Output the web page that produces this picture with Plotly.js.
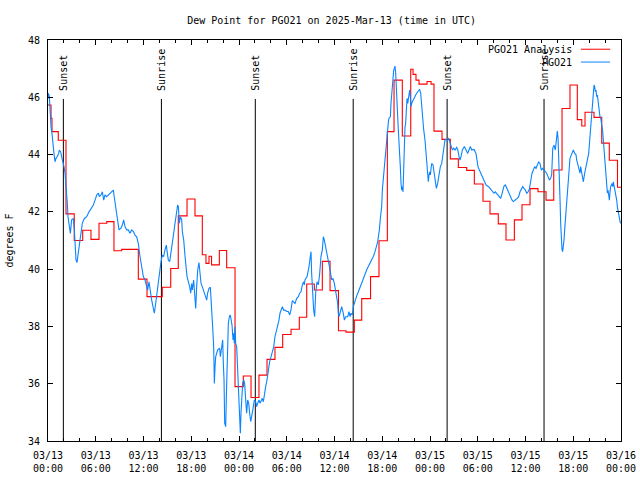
<!DOCTYPE html>
<html>
<head>
<meta charset="utf-8">
<script src="https://cdn.plot.ly/plotly-3.0.1.min.js"></script>
<style>html,body{margin:0;padding:0;background:#fff;}#chart{width:640px;height:480px;}</style>
</head>
<body>
<div id="chart"></div>
<script>
// Hours after 2025-03-13 00:00 UTC
const analysisHours = [0, 0.38, 0.5, 1.29, 2.26, 3.3, 4.36, 5.4, 6.41, 7.38, 8.29, 9.26, 11.35, 12.44, 14.36, 15.42, 16.37, 17.47, 18.47, 19.39, 19.85, 20.23, 20.55, 21.53, 22.45, 23.5, 24.54, 25.51, 26.51, 27.52, 28.52, 29.49, 30.54, 31.58, 32.51, 33.46, 34.47, 35.44, 36.5, 37.45, 38.49, 39.42, 40.53, 41.59, 42.64, 43.48, 44.52, 45.58, 45.87, 46.24, 46.62, 47.63, 48.13, 48.5, 49.51, 50.55, 51.56, 52.61, 53.57, 54.66, 55.54, 56.58, 57.55, 58.6, 59.56, 60.57, 61.57, 62.58, 63.55, 64.59, 65.59, 66.51, 67.07, 67.48, 68.61, 69.58, 70.53, 71.56, 72];
const analysisDew = [45.73, 45.27, 44.8, 44.5, 41.93, 41.0, 41.36, 41.04, 41.6, 41.66, 40.64, 40.69, 39.65, 39.04, 39.37, 40.02, 41.86, 42.45, 41.86, 40.5, 40.2, 40.45, 40.15, 40.65, 40.05, 35.9, 36.27, 35.52, 36.3, 36.85, 37.27, 37.72, 37.9, 38.32, 39.48, 39.27, 40.27, 39.25, 37.85, 37.8, 38.22, 38.97, 39.74, 40.99, 44.8, 46.6, 44.65, 46.98, 46.8, 46.6, 46.46, 46.55, 46.46, 44.82, 44.53, 43.85, 43.55, 43.45, 42.97, 42.37, 41.93, 41.58, 41.02, 41.72, 42.25, 42.81, 42.7, 42.41, 43.46, 45.61, 46.43, 45.22, 45.0, 45.48, 45.3, 44.4, 43.8, 42.86, 42.86];

const obsHours = [0, 0.04, 0.17, 0.25, 0.38, 0.5, 0.67, 0.75, 0.88, 1.0, 1.17, 1.34, 1.42, 1.59, 1.76, 1.93, 2.01, 2.14, 2.26, 2.35, 2.43, 2.51, 2.6, 2.72, 2.81, 2.97, 3.18, 3.31, 3.39, 3.52, 3.64, 3.81, 3.98, 4.15, 4.31, 4.57, 4.86, 5.15, 5.4, 5.7, 5.91, 6.12, 6.33, 6.45, 6.66, 6.83, 7.0, 7.16, 7.37, 7.58, 7.79, 8.0, 8.21, 8.29, 8.42, 8.59, 8.75, 8.92, 9.17, 9.34, 9.51, 9.68, 9.89, 10.09, 10.3, 10.51, 10.72, 10.93, 11.14, 11.35, 11.56, 11.77, 11.98, 12.19, 12.31, 12.52, 12.69, 12.86, 13.03, 13.19, 13.36, 13.53, 13.7, 13.86, 14.03, 14.2, 14.37, 14.53, 14.7, 14.87, 15.0, 15.12, 15.29, 15.46, 15.62, 15.79, 15.96, 16.13, 16.29, 16.38, 16.5, 16.63, 16.8, 16.88, 17.05, 17.22, 17.47, 17.8, 17.93, 18.05, 18.14, 18.3, 18.39, 18.56, 18.68, 18.81, 18.97, 19.1, 19.23, 19.39, 19.64, 19.94, 20.06, 20.23, 20.4, 20.57, 20.69, 20.82, 20.9, 20.99, 21.07, 21.32, 21.57, 21.66, 21.82, 21.95, 22.03, 22.12, 22.2, 22.33, 22.41, 22.53, 22.66, 22.79, 22.91, 23.12, 23.25, 23.33, 23.41, 23.5, 23.58, 23.71, 23.83, 23.92, 24.0, 24.08, 24.17, 24.25, 24.34, 24.46, 24.59, 24.71, 24.84, 24.96, 25.09, 25.22, 25.34, 25.47, 25.59, 25.8, 25.93, 26.1, 26.22, 26.35, 26.51, 26.64, 26.77, 26.93, 27.06, 27.18, 27.35, 27.52, 27.69, 27.85, 28.02, 28.19, 28.36, 28.52, 28.69, 28.86, 29.03, 29.15, 29.28, 29.45, 29.61, 29.78, 29.99, 30.2, 30.37, 30.53, 30.7, 30.87, 31.04, 31.25, 31.46, 31.62, 31.79, 31.96, 32.13, 32.21, 32.29, 32.55, 32.63, 32.8, 32.96, 33.05, 33.13, 33.26, 33.38, 33.51, 33.63, 33.8, 33.97, 34.14, 34.3, 34.47, 34.6, 34.72, 34.89, 35.06, 35.23, 35.44, 35.65, 35.81, 35.98, 36.15, 36.27, 36.4, 36.48, 36.57, 36.69, 36.9, 37.11, 37.24, 37.41, 37.66, 37.82, 37.95, 38.08, 38.24, 38.37, 38.49, 38.66, 38.83, 39.0, 39.16, 39.33, 39.5, 39.67, 39.83, 40.04, 40.25, 40.46, 40.67, 40.88, 41.09, 41.3, 41.43, 41.51, 41.64, 41.76, 41.85, 41.93, 42.01, 42.1, 42.18, 42.26, 42.35, 42.43, 42.52, 42.6, 42.68, 42.77, 42.85, 43.02, 43.1, 43.19, 43.27, 43.35, 43.44, 43.52, 43.6, 43.69, 43.77, 43.86, 43.94, 44.02, 44.11, 44.19, 44.27, 44.36, 44.44, 44.53, 44.61, 44.69, 44.78, 44.86, 44.94, 45.03, 45.11, 45.2, 45.28, 45.36, 45.45, 45.53, 45.61, 45.7, 45.87, 46.03, 46.2, 46.37, 46.54, 46.7, 46.83, 46.96, 47.08, 47.21, 47.37, 47.5, 47.63, 47.71, 47.79, 47.88, 47.96, 48.04, 48.13, 48.21, 48.38, 48.55, 48.71, 48.8, 48.97, 49.13, 49.3, 49.47, 49.59, 49.72, 49.8, 49.89, 50.14, 50.31, 50.47, 50.64, 50.81, 50.98, 51.14, 51.35, 51.48, 51.65, 51.77, 51.9, 52.07, 52.32, 52.57, 52.74, 52.9, 53.07, 53.24, 53.53, 53.78, 53.87, 54.03, 54.2, 54.37, 54.54, 54.7, 54.87, 55.04, 55.21, 55.37, 55.54, 55.71, 55.88, 56.04, 56.21, 56.38, 56.59, 56.71, 56.88, 57.01, 57.13, 57.3, 57.47, 57.64, 57.8, 57.97, 58.14, 58.31, 58.47, 58.64, 58.81, 58.98, 59.14, 59.31, 59.52, 59.65, 59.81, 59.98, 60.15, 60.32, 60.48, 60.57, 60.69, 60.82, 60.99, 61.15, 61.32, 61.49, 61.66, 61.82, 61.99, 62.16, 62.33, 62.49, 62.66, 62.83, 63.0, 63.16, 63.29, 63.42, 63.58, 63.75, 63.84, 63.92, 64.0, 64.09, 64.17, 64.25, 64.34, 64.42, 64.51, 64.59, 64.67, 64.76, 64.84, 64.92, 65.01, 65.09, 65.18, 65.26, 65.34, 65.43, 65.51, 65.59, 65.76, 65.93, 66.01, 66.18, 66.35, 66.43, 66.6, 66.77, 66.85, 66.93, 67.1, 67.27, 67.44, 67.6, 67.77, 67.94, 68.02, 68.11, 68.19, 68.27, 68.36, 68.44, 68.53, 68.61, 68.69, 68.78, 68.86, 68.94, 69.03, 69.11, 69.2, 69.28, 69.36, 69.45, 69.53, 69.61, 69.7, 69.78, 69.87, 69.95, 70.03, 70.12, 70.2, 70.29, 70.37, 70.45, 70.54, 70.62, 70.7, 70.87, 70.96, 71.04, 71.21, 71.29, 71.37, 71.46, 71.54, 71.63, 71.71, 71.79, 71.88, 71.96];
const obsDew = [45.95, 46.14, 46.02, 45.44, 44.97, 44.74, 44.39, 44.04, 43.75, 43.87, 43.93, 44.04, 44.16, 44.1, 43.87, 43.69, 43.58, 43.35, 43.0, 42.53, 42.3, 41.83, 41.6, 41.48, 41.25, 41.72, 41.77, 41.37, 40.79, 40.32, 40.23, 40.55, 40.9, 41.25, 41.6, 41.77, 41.83, 42.0, 42.12, 42.24, 42.41, 42.59, 42.65, 42.53, 42.59, 42.7, 42.41, 42.59, 42.53, 42.59, 42.65, 42.7, 42.76, 42.59, 42.3, 42.0, 41.72, 41.37, 41.43, 41.54, 41.72, 41.48, 41.37, 41.37, 41.25, 41.37, 41.31, 41.19, 41.13, 40.9, 40.44, 40.09, 39.74, 39.62, 39.5, 39.27, 39.56, 39.16, 38.92, 38.69, 38.46, 38.8, 39.16, 39.62, 39.97, 40.26, 40.49, 40.44, 40.67, 40.84, 40.55, 40.32, 40.26, 40.55, 40.9, 41.25, 41.6, 41.95, 42.24, 42.18, 41.6, 41.83, 41.72, 41.31, 41.02, 40.45, 39.74, 39.39, 39.16, 39.5, 39.27, 39.62, 39.27, 38.63, 39.39, 39.97, 40.23, 39.85, 39.5, 39.39, 39.16, 38.92, 39.16, 39.33, 39.37, 38.69, 37.99, 37.29, 36.01, 36.6, 36.94, 37.18, 37.24, 36.94, 37.29, 37.53, 36.71, 36.13, 34.62, 34.5, 35.55, 36.71, 38.11, 38.34, 38.4, 38.05, 37.53, 37.76, 37.41, 37.99, 37.41, 37.29, 36.36, 35.55, 34.97, 34.5, 34.27, 34.97, 35.43, 36.01, 36.13, 36.01, 35.43, 34.97, 35.43, 35.32, 34.97, 34.68, 34.85, 35.14, 35.43, 35.37, 35.2, 35.32, 35.43, 35.32, 35.43, 35.49, 35.37, 35.66, 35.9, 36.13, 36.48, 36.77, 36.94, 37.12, 37.29, 37.64, 37.82, 37.99, 38.23, 38.46, 38.57, 38.69, 38.57, 38.57, 38.52, 38.52, 38.4, 38.57, 38.9, 38.86, 38.8, 38.98, 39.04, 39.16, 39.21, 39.45, 39.56, 39.45, 39.62, 39.74, 39.85, 40.09, 40.44, 40.61, 39.85, 39.16, 38.57, 38.34, 39.16, 39.56, 39.45, 39.85, 40.44, 40.67, 41.13, 41.02, 40.79, 40.55, 40.32, 39.97, 39.62, 39.68, 39.5, 39.27, 39.04, 38.81, 38.46, 38.34, 38.46, 38.69, 38.46, 38.22, 38.34, 38.34, 38.52, 38.34, 38.46, 38.4, 38.69, 38.81, 38.98, 39.1, 39.21, 39.33, 39.5, 39.62, 39.74, 39.85, 39.97, 40.09, 40.2, 40.32, 40.44, 40.61, 40.79, 40.96, 41.13, 41.37, 41.77, 42.01, 42.18, 42.76, 43.05, 43.35, 43.58, 43.93, 44.28, 44.51, 44.8, 44.97, 45.15, 45.27, 45.32, 45.79, 46.14, 46.49, 46.84, 46.95, 47.01, 47.09, 46.84, 46.14, 46.02, 45.32, 44.86, 44.51, 44.16, 43.58, 42.99, 42.76, 42.88, 42.7, 43.46, 44.63, 44.97, 45.09, 45.91, 45.96, 45.79, 45.91, 46.14, 46.25, 46.02, 45.67, 45.79, 45.91, 46.02, 46.08, 46.16, 46.23, 46.28, 46.14, 45.67, 45.21, 44.86, 44.51, 44.04, 43.69, 43.34, 43.05, 43.29, 43.4, 43.29, 43.46, 43.69, 43.64, 43.23, 42.88, 42.82, 43.0, 43.29, 43.58, 43.69, 43.93, 44.16, 44.39, 44.53, 44.51, 44.57, 44.45, 44.28, 44.16, 44.22, 44.16, 44.25, 44.18, 43.93, 43.81, 43.93, 44.16, 44.28, 44.1, 44.04, 44.16, 44.28, 44.16, 44.18, 44.04, 43.81, 43.58, 43.46, 43.35, 43.23, 43.11, 43.05, 42.94, 42.9, 42.88, 42.82, 42.76, 42.7, 42.65, 42.7, 42.65, 42.59, 42.53, 42.47, 42.59, 42.76, 42.9, 42.94, 42.82, 42.7, 42.59, 42.53, 42.41, 42.36, 42.41, 42.44, 42.47, 42.53, 42.7, 42.82, 42.88, 42.82, 42.76, 42.65, 42.7, 42.79, 42.99, 43.17, 43.35, 43.46, 43.58, 43.52, 43.64, 43.75, 43.69, 43.46, 43.52, 43.46, 43.4, 43.35, 43.23, 43.11, 43.17, 43.29, 44.22, 44.33, 44.16, 44.51, 44.74, 44.82, 44.57, 44.04, 43.35, 42.41, 41.6, 41.02, 40.67, 40.61, 40.79, 41.02, 41.37, 41.72, 42.07, 42.41, 42.88, 43.11, 43.4, 43.64, 43.87, 43.99, 44.1, 44.16, 44.04, 43.99, 43.81, 43.6, 43.4, 43.35, 43.58, 43.29, 43.05, 43.35, 43.58, 43.81, 44.04, 44.33, 44.63, 44.98, 45.21, 45.67, 45.91, 46.25, 46.43, 46.37, 46.2, 46.25, 46.02, 46.08, 45.85, 45.73, 45.61, 45.32, 45.27, 45.15, 44.98, 44.8, 44.51, 44.16, 43.81, 43.58, 43.23, 42.88, 42.65, 42.76, 42.59, 42.41, 42.7, 42.88, 42.99, 42.88, 43.05, 42.82, 42.7, 42.53, 42.41, 42.18, 42.0, 41.83, 41.72, 41.66, 41.6];

const sunEventHours = [1.93, 14.25, 26.05, 38.35, 50.15, 62.33];
const sunEventLabels = ["Sunset", "Sunrise", "Sunset", "Sunrise", "Sunset", "Sunrise"];
const seriesNames = ["PGO21 Analysis", "PGO21"];
const yTickValues = [34, 36, 38, 40, 42, 44, 46, 48];

const t0 = Date.UTC(2025, 2, 13, 0, 0, 0);
const toTime = h => t0 + h * 3600000;

const FONT = "DejaVu Sans Mono, monospace";
const RED = "#ff0000";
const BLUE = "#0a84ff";

const traces = [
  {
    x: analysisHours.map(toTime), y: analysisDew, name: seriesNames[0],
    type: "scatter", mode: "lines", line: {color: RED, width: 1.1, shape: "hv"},
    hoverinfo: "x+y"
  },
  {
    x: obsHours.map(toTime), y: obsDew, name: seriesNames[1],
    type: "scatter", mode: "lines", line: {color: BLUE, width: 1.1},
    hoverinfo: "x+y"
  }
];

const shapes = sunEventHours.map(h => ({
  type: "line", xref: "x", yref: "paper",
  x0: toTime(h), x1: toTime(h), y0: 0, y1: 0.853,
  line: {color: "#000", width: 1}, layer: "below"
}));
// legend sample lines (gnuplot style: text then sample)
shapes.push({type: "line", xref: "paper", yref: "paper", x0: 0.930, x1: 0.981, y0: 0.977, y1: 0.977, line: {color: RED, width: 1}});
shapes.push({type: "line", xref: "paper", yref: "paper", x0: 0.930, x1: 0.981, y0: 0.945, y1: 0.945, line: {color: BLUE, width: 1}});

const annotations = sunEventHours.map((h, i) => ({
  x: toTime(h), xref: "x", y: 0.869, yref: "paper",
  text: sunEventLabels[i], showarrow: false, textangle: -90,
  xanchor: "center", yanchor: "bottom",
  font: {family: FONT, size: 10, color: "#000"}
}));
annotations.push({x: 0.918, xref: "paper", y: 0.977, yref: "paper", text: seriesNames[0], showarrow: false, xanchor: "right", yanchor: "middle", font: {family: FONT, size: 10, color: "#000"}});
annotations.push({x: 0.918, xref: "paper", y: 0.945, yref: "paper", text: seriesNames[1], showarrow: false, xanchor: "right", yanchor: "middle", font: {family: FONT, size: 10, color: "#000"}});

const layout = {
  width: 640, height: 480,
  margin: {l: 48, r: 19, t: 40, b: 39, pad: 0},
  paper_bgcolor: "#fff", plot_bgcolor: "#fff",
  font: {family: FONT, size: 10, color: "#000"},
  showlegend: false,
  title: {text: "Dew Point for PGO21 on 2025-Mar-13 (time in UTC)", x: 0.495, xref: "paper", xanchor: "center", y: 0.958, yref: "container", yanchor: "middle", font: {family: FONT, size: 10, color: "#000"}},
  xaxis: {
    type: "date",
    range: [toTime(0), toTime(72)],
    tick0: toTime(0), dtick: 6 * 3600000,
    tickformat: "%m/%d<br>%H:%M",
    ticks: "inside", ticklen: 5, tickwidth: 1, tickcolor: "#000",
    ticklabelstandoff: 5,
    minor: {dtick: 2 * 3600000, ticks: "inside", ticklen: 3, tickcolor: "#000", tickwidth: 1, showgrid: false},
    showline: true, linecolor: "#000", linewidth: 1, mirror: "ticks",
    showgrid: false, zeroline: false,
    tickfont: {family: FONT, size: 10, color: "#000"}
  },
  yaxis: {
    range: [34, 48],
    tickvals: yTickValues,
    ticks: "inside", ticklen: 5, tickwidth: 1, tickcolor: "#000",
    ticklabelstandoff: 5,
    showline: true, linecolor: "#000", linewidth: 1, mirror: "ticks",
    showgrid: false, zeroline: false,
    tickfont: {family: FONT, size: 10, color: "#000"},
    title: {text: "degrees F", font: {family: FONT, size: 10, color: "#000"}, standoff: 12}
  },
  shapes: shapes,
  annotations: annotations
};

Plotly.newPlot("chart", traces, layout, {displayModeBar: false, staticPlot: true});
</script>
</body>
</html>
